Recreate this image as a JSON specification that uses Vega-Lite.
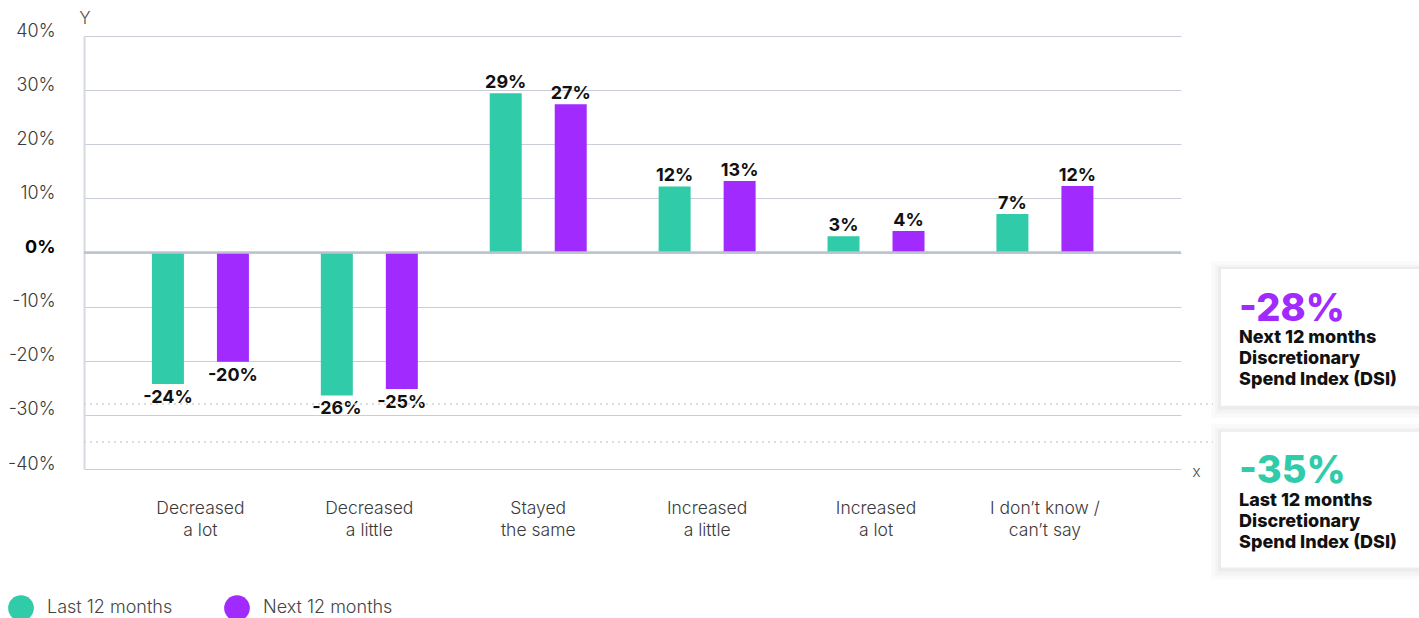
{
  "$schema": "https://vega.github.io/schema/vega-lite/v6.json",
  "width": 1097,
  "height": 433,
  "autosize": {"type": "none"},
  "padding": {"left": 84, "top": 36, "right": 238, "bottom": 149},
  "background": "white",
  "config": {
    "font": "Inter",
    "view": {"stroke": null},
    "locale": {"number": {"decimal": ".", "thousands": ",", "grouping": [3], "currency": ["$", ""], "minus": "-"}}
  },
  "datasets": {
    "bars": [
      {"category": "Decreased a lot", "period": "Last 12 months", "value": -0.243},
      {"category": "Decreased a lot", "period": "Next 12 months", "value": -0.202},
      {"category": "Decreased a little", "period": "Last 12 months", "value": -0.264},
      {"category": "Decreased a little", "period": "Next 12 months", "value": -0.252},
      {"category": "Stayed the same", "period": "Last 12 months", "value": 0.294},
      {"category": "Stayed the same", "period": "Next 12 months", "value": 0.274},
      {"category": "Increased a little", "period": "Last 12 months", "value": 0.122},
      {"category": "Increased a little", "period": "Next 12 months", "value": 0.132},
      {"category": "Increased a lot", "period": "Last 12 months", "value": 0.03},
      {"category": "Increased a lot", "period": "Next 12 months", "value": 0.0395},
      {"category": "I don’t know / can’t say", "period": "Last 12 months", "value": 0.071},
      {"category": "I don’t know / can’t say", "period": "Next 12 months", "value": 0.123}
    ],
    "dsi": [
      {"period": "Next 12 months", "dsi": -0.28, "desc": "Next 12 months\nDiscretionary\nSpend Index (DSI)"},
      {"period": "Last 12 months", "dsi": -0.35, "desc": "Last 12 months\nDiscretionary\nSpend Index (DSI)"}
    ]
  },
  "layer": [
    {
      "data": {"name": "bars"},
      "layer": [
        {
          "mark": {"type": "bar"},
          "encoding": {
            "x": {
              "field": "category", "type": "nominal", "sort": null,
              "scale": {"paddingInner": 0.4, "paddingOuter": 0.4475, "align": 0.435},
              "axis": {
                "title": "x", "titleX": 1112, "titleY": 2, "titleBaseline": "middle", "titleAlign": "center",
                "titleFontSize": 16, "titleFontWeight": 300, "titleColor": "#555",
                "labelExpr": "indexof(datum.label, '/') > 0 ? [slice(datum.label, 0, indexof(datum.label, '/') + 1), slice(datum.label, indexof(datum.label, '/') + 2)] : [slice(datum.label, 0, indexof(datum.label, ' ')), slice(datum.label, indexof(datum.label, ' ') + 1)]",
                "labelAngle": 0, "labelPadding": 30, "labelFontSize": 17.5, "labelFontWeight": 300,
                "labelColor": "#3a3a3a", "labelLineHeight": 22, "labelBaseline": "top",
                "ticks": false, "domain": false
              }
            },
            "xOffset": {"field": "period", "type": "nominal", "scale": {"paddingInner": 0.508, "paddingOuter": 0.0335}},
            "y": {
              "field": "value", "type": "quantitative",
              "scale": {"domain": [-0.4, 0.4], "nice": false},
              "axis": {
                "values": [-0.4, -0.3, -0.2, -0.1, 0, 0.1, 0.2, 0.3, 0.4],
                "format": ".0%",
                "title": "Y", "titleAngle": 0, "titleX": 0.5, "titleY": -18, "titleAlign": "center", "titleBaseline": "middle",
                "titleFontSize": 17, "titleFontWeight": 300, "titleColor": "#555",
                "grid": true, "gridColor": "#c9cdd9", "gridWidth": 1,
                "domain": true, "domainColor": "#d6d9e1", "domainWidth": 2,
                "ticks": false, "labelPadding": 29, "labelFontSize": 18, "labelOffset": -5,
                "labelFontWeight": {"condition": {"test": "datum.value === 0", "value": 700}, "value": 300},
                "labelColor": {"condition": {"test": "datum.value === 0", "value": "#000000"}, "value": "#3a3a3a"}
              }
            },
            "color": {
              "field": "period", "type": "nominal",
              "scale": {"domain": ["Last 12 months", "Next 12 months"], "range": ["#30CBA8", "#A12BFF"]},
              "legend": {
                "orient": "none", "legendX": -76, "legendY": 559, "direction": "horizontal", "title": null,
                "symbolType": "circle", "symbolSize": 660, "symbolStrokeWidth": 0, "symbolOpacity": 1,
                "labelFontSize": 18, "labelFontWeight": 300, "labelColor": "#444", "labelOffset": 13,
                "columnPadding": 51, "padding": 0
              }
            }
          }
        },
        {
          "transform": [{"filter": "datum.value >= 0"}],
          "mark": {"type": "text", "baseline": "alphabetic", "dy": -5, "fontSize": 18, "fontWeight": 700, "color": "#111"},
          "encoding": {
            "x": {"field": "category", "type": "nominal", "sort": null},
            "xOffset": {"field": "period", "type": "nominal"},
            "y": {"field": "value", "type": "quantitative", "scale": {"domain": [-0.4, 0.4], "nice": false}},
            "text": {"field": "value", "type": "quantitative", "format": ".0%"}
          }
        },
        {
          "transform": [{"filter": "datum.value < 0"}],
          "mark": {"type": "text", "baseline": "top", "dy": 5, "fontSize": 18, "fontWeight": 700, "color": "#111"},
          "encoding": {
            "x": {"field": "category", "type": "nominal", "sort": null},
            "xOffset": {"field": "period", "type": "nominal"},
            "y": {"field": "value", "type": "quantitative", "scale": {"domain": [-0.4, 0.4], "nice": false}},
            "text": {"field": "value", "type": "quantitative", "format": ".0%"}
          }
        }
      ]
    },
    {
      "data": {"values": [{"v": 0}]},
      "mark": {"type": "rule", "color": "#bcc2cf", "strokeWidth": 2.6},
      "encoding": {"y": {"field": "v", "type": "quantitative", "scale": {"domain": [-0.4, 0.4], "nice": false}}}
    },
    {
      "data": {"name": "dsi"},
      "mark": {"type": "rule", "color": "#cfd2da", "strokeWidth": 1.5, "strokeDash": [2, 4]},
      "encoding": {
        "x": {"datum": 0, "type": "quantitative", "scale": {"domain": [0, 1], "nice": false, "zero": false}, "axis": null},
        "x2": {"datum": 1.029},
        "y": {"field": "dsi", "type": "quantitative", "scale": {"domain": [-0.4, 0.4], "nice": false}}
      }
    },
    {
      "data": {"name": "dsi"},
      "transform": [{"filter": "datum.period === 'Next 12 months'"}],
      "layer": [
        {
          "mark": {"type": "rect", "color": "#000", "opacity": 0.018, "xOffset": -10, "x2Offset": 10, "yOffset": -8, "y2Offset": 12},
          "encoding": {
            "x": {"datum": 1.0365, "type": "quantitative", "scale": {"domain": [0, 1], "nice": false, "zero": false}, "axis": null},
            "x2": {"datum": 1.25},
            "y": {"datum": -0.0305, "type": "quantitative", "scale": {"domain": [-0.4, 0.4], "nice": false}},
            "y2": {"datum": -0.283}
          }
        },
        {
          "mark": {"type": "rect", "color": "#000", "opacity": 0.025, "xOffset": -6, "x2Offset": 6, "yOffset": -4, "y2Offset": 8},
          "encoding": {
            "x": {"datum": 1.0365, "type": "quantitative", "scale": {"domain": [0, 1], "nice": false, "zero": false}, "axis": null},
            "x2": {"datum": 1.25},
            "y": {"datum": -0.0305, "type": "quantitative", "scale": {"domain": [-0.4, 0.4], "nice": false}},
            "y2": {"datum": -0.283}
          }
        },
        {
          "mark": {"type": "rect", "color": "#000", "opacity": 0.03, "xOffset": -3, "x2Offset": 3, "yOffset": -2, "y2Offset": 4},
          "encoding": {
            "x": {"datum": 1.0365, "type": "quantitative", "scale": {"domain": [0, 1], "nice": false, "zero": false}, "axis": null},
            "x2": {"datum": 1.25},
            "y": {"datum": -0.0305, "type": "quantitative", "scale": {"domain": [-0.4, 0.4], "nice": false}},
            "y2": {"datum": -0.283}
          }
        },
        {
          "mark": {"type": "rect", "color": "#ffffff"},
          "encoding": {
            "x": {"datum": 1.0365, "type": "quantitative", "scale": {"domain": [0, 1], "nice": false, "zero": false}, "axis": null},
            "x2": {"datum": 1.25},
            "y": {"datum": -0.0305, "type": "quantitative", "scale": {"domain": [-0.4, 0.4], "nice": false}},
            "y2": {"datum": -0.283}
          }
        },
        {
          "mark": {"type": "text", "align": "left", "baseline": "alphabetic", "fontSize": 38, "fontWeight": 800, "letterSpacing": -1.5, "color": "#A12BFF"},
          "encoding": {
            "x": {"datum": 1.0529, "type": "quantitative", "scale": {"domain": [0, 1], "nice": false, "zero": false}, "axis": null},
            "y": {"datum": -0.1266, "type": "quantitative", "scale": {"domain": [-0.4, 0.4], "nice": false}},
            "text": {"field": "dsi", "type": "quantitative", "format": ".0%"}
          }
        },
        {
          "mark": {"type": "text", "align": "left", "baseline": "alphabetic", "fontSize": 18, "fontWeight": 800, "color": "#111", "lineBreak": "\n", "lineHeight": 21},
          "encoding": {
            "x": {"datum": 1.0529, "type": "quantitative", "scale": {"domain": [0, 1], "nice": false, "zero": false}, "axis": null},
            "y": {"datum": -0.1678, "type": "quantitative", "scale": {"domain": [-0.4, 0.4], "nice": false}},
            "text": {"field": "desc", "type": "nominal"}
          }
        }
      ]
    },
    {
      "data": {"name": "dsi"},
      "transform": [{"filter": "datum.period === 'Last 12 months'"}],
      "layer": [
        {
          "mark": {"type": "rect", "color": "#000", "opacity": 0.018, "xOffset": -10, "x2Offset": 10, "yOffset": -8, "y2Offset": 12},
          "encoding": {
            "x": {"datum": 1.0365, "type": "quantitative", "scale": {"domain": [0, 1], "nice": false, "zero": false}, "axis": null},
            "x2": {"datum": 1.25},
            "y": {"datum": -0.331, "type": "quantitative", "scale": {"domain": [-0.4, 0.4], "nice": false}},
            "y2": {"datum": -0.582}
          }
        },
        {
          "mark": {"type": "rect", "color": "#000", "opacity": 0.025, "xOffset": -6, "x2Offset": 6, "yOffset": -4, "y2Offset": 8},
          "encoding": {
            "x": {"datum": 1.0365, "type": "quantitative", "scale": {"domain": [0, 1], "nice": false, "zero": false}, "axis": null},
            "x2": {"datum": 1.25},
            "y": {"datum": -0.331, "type": "quantitative", "scale": {"domain": [-0.4, 0.4], "nice": false}},
            "y2": {"datum": -0.582}
          }
        },
        {
          "mark": {"type": "rect", "color": "#000", "opacity": 0.03, "xOffset": -3, "x2Offset": 3, "yOffset": -2, "y2Offset": 4},
          "encoding": {
            "x": {"datum": 1.0365, "type": "quantitative", "scale": {"domain": [0, 1], "nice": false, "zero": false}, "axis": null},
            "x2": {"datum": 1.25},
            "y": {"datum": -0.331, "type": "quantitative", "scale": {"domain": [-0.4, 0.4], "nice": false}},
            "y2": {"datum": -0.582}
          }
        },
        {
          "mark": {"type": "rect", "color": "#ffffff"},
          "encoding": {
            "x": {"datum": 1.0365, "type": "quantitative", "scale": {"domain": [0, 1], "nice": false, "zero": false}, "axis": null},
            "x2": {"datum": 1.25},
            "y": {"datum": -0.331, "type": "quantitative", "scale": {"domain": [-0.4, 0.4], "nice": false}},
            "y2": {"datum": -0.582}
          }
        },
        {
          "mark": {"type": "text", "align": "left", "baseline": "alphabetic", "fontSize": 38, "fontWeight": 800, "letterSpacing": -1.5, "color": "#30CBA8"},
          "encoding": {
            "x": {"datum": 1.0529, "type": "quantitative", "scale": {"domain": [0, 1], "nice": false, "zero": false}, "axis": null},
            "y": {"datum": -0.4264, "type": "quantitative", "scale": {"domain": [-0.4, 0.4], "nice": false}},
            "text": {"field": "dsi", "type": "quantitative", "format": ".0%"}
          }
        },
        {
          "mark": {"type": "text", "align": "left", "baseline": "alphabetic", "fontSize": 18, "fontWeight": 800, "color": "#111", "lineBreak": "\n", "lineHeight": 21},
          "encoding": {
            "x": {"datum": 1.0529, "type": "quantitative", "scale": {"domain": [0, 1], "nice": false, "zero": false}, "axis": null},
            "y": {"datum": -0.4678, "type": "quantitative", "scale": {"domain": [-0.4, 0.4], "nice": false}},
            "text": {"field": "desc", "type": "nominal"}
          }
        }
      ]
    }
  ],
  "resolve": {"scale": {"x": "independent"}}
}
